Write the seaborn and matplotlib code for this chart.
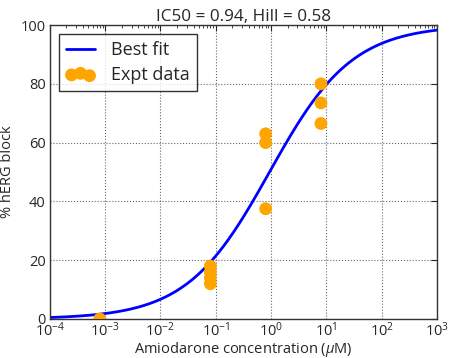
import numpy as np
import pandas as pd
import matplotlib
matplotlib.use("Agg")
import matplotlib.pyplot as plt
import seaborn as sns

# fitted parameters (from title)
ic50 = 0.94
hill = 0.58

conc = [0.0008, 0.08, 0.08, 0.08, 0.08, 0.8, 0.8, 0.8, 8, 8, 8]
block = [0.0, 18.0, 16.0, 14.0, 12.0, 63.0, 60.0, 37.5, 80.0, 73.5, 66.5]

expt = pd.DataFrame({'conc': conc, 'block': block})

x_fit = np.logspace(-4, 3, 300)
fit = pd.DataFrame({'conc': x_fit, 'block': 100.0 / (1.0 + (ic50 / x_fit) ** hill)})

sns.set_style("white")
plt.rcParams['font.family'] = ['Open Sans', 'DejaVu Sans']
plt.rcParams['mathtext.fontset'] = 'custom'
plt.rcParams['mathtext.rm'] = 'Open Sans'
plt.rcParams['mathtext.it'] = 'Open Sans:italic'
plt.rcParams['mathtext.default'] = 'regular'

fig = plt.figure(figsize=(4.49, 3.58), dpi=100)
ax = fig.add_axes([0.111, 0.109, 0.862, 0.821])

sns.lineplot(data=fit, x='conc', y='block', color='b', lw=2, ax=ax, label='Best fit')
sns.scatterplot(data=expt, x='conc', y='block', color='orange', s=85, edgecolor='none',
                ax=ax, label='Expt data', zorder=3)

ax.set_xscale('log')
ax.set_xlim(1e-4, 1e3)
ax.set_ylim(0, 100)
ax.set_xticks([10.0 ** k for k in range(-4, 4)])
ax.set_yticks([0, 20, 40, 60, 80, 100])
ax.grid(True, color='k', linestyle=':', linewidth=0.8, alpha=0.6)
ax.tick_params(which='both', direction='in', top=True, right=True, labelsize=10.5, pad=2)
ax.tick_params(axis='y', pad=3)
ax.tick_params(which='major', length=4)
ax.tick_params(which='minor', length=2)
for sp in ax.spines.values():
    sp.set_color('#333333')
    sp.set_linewidth(1)

ax.set_xlabel('Amiodarone concentration ($\\mathit{\\mu}$M)', fontsize=10.5, labelpad=0)
ax.set_ylabel('% hERG block', fontsize=10.5, labelpad=4)
ax.set_title(f'IC50 = {ic50}, Hill = {hill}', fontsize=12.3, pad=3)

leg = ax.legend(loc='upper left', scatterpoints=3, fancybox=False, frameon=True,
                fontsize=13, borderaxespad=0.5, handlelength=1.6, handletextpad=0.9,
                labelspacing=0.35, borderpad=0.4)
leg.get_frame().set_edgecolor('k')
leg.get_frame().set_linewidth(1)

fig.savefig('out.png', dpi=100)
